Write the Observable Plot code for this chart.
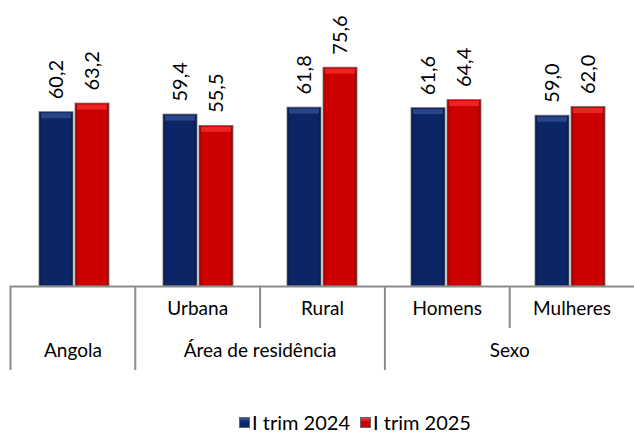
<!DOCTYPE html>
<html>
<head>
<meta charset="utf-8">
<script src="https://cdn.jsdelivr.net/npm/d3@7"></script>
<script src="https://cdn.jsdelivr.net/npm/@observablehq/plot@0.6"></script>
<style>
  html, body { margin: 0; padding: 0; background: #fff; }
  body { width: 634px; height: 434px; overflow: hidden; font-family: Lato, "Open Sans", sans-serif; }
  #chart svg, #table svg { display: block; }
  #legend { display: flex; justify-content: center; align-items: center; margin-top: 42px; padding-left: 76px; font-size: 20px; color: #000; line-height: 20px; }
  .item { display: flex; align-items: center; margin: 0 5px; }
  .sw { width: 11px; height: 11px; margin-right: 2px; box-sizing: border-box; border: 1px solid #666; }
</style>
</head>
<body>
<div id="chart"></div>
<div id="table"></div>
<div id="legend"></div>
<script>
// ---- data ----
const categories = ["Angola", "Urbana", "Rural", "Homens", "Mulheres"];
const groups = ["Angola", "Área de residência", "Área de residência", "Sexo", "Sexo"];
const subLabels = ["", "Urbana", "Rural", "Homens", "Mulheres"];
const series = ["I trim 2024", "I trim 2025"];
const values2024 = [60.2, 59.4, 61.8, 61.6, 59.0];
const values2025 = [63.2, 55.5, 75.6, 64.4, 62.0];
const colors = ["#0c2566", "#cc0000"];
const bevel = ["#3d5c9e", "#ff3a3a"];

const fmt = v => v.toFixed(1).replace(".", ",");
const rows = [];
categories.forEach((c, i) => {
  rows.push({category: c, series: series[0], value: values2024[i]});
  rows.push({category: c, series: series[1], value: values2025[i]});
});

const W = 634, ML = 10, MR = 0;

// ---- bar chart ----
const chart = Plot.plot({
  width: W,
  height: 286,
  marginLeft: ML,
  marginRight: MR,
  marginTop: 11,
  marginBottom: 0,
  style: {fontFamily: "Lato, 'Open Sans', sans-serif", overflow: "visible"},
  fx: {domain: categories, padding: 0, axis: null},
  x: {domain: series, paddingInner: 0.05, paddingOuter: 0.72, axis: null},
  y: {domain: [0, 95], axis: null},
  color: {domain: series, range: ["url(#gBlue)", "url(#gRed)"]},
  marks: [
    Plot.barY(rows, {fx: "category", x: "series", y: "value", fill: "series", stroke: "#6f6f6f", strokeWidth: 0.8}),
    Plot.tickY(rows, {fx: "category", x: "series", y: "value", stroke: d => d.series === series[0] ? bevel[0] : bevel[1], strokeWidth: 5, dy: 3.5, inset: 2, strokeOpacity: 0.6}),
    Plot.text(rows, {fx: "category", x: "series", y: "value", text: d => fmt(d.value), rotate: -90, textAnchor: "start", lineAnchor: "middle", dy: -13, fontSize: 20, fill: "#000"})
  ]
});
// gradients
const svg = d3.select(chart.tagName === "svg" ? chart : chart.querySelector("svg"));
const defs = svg.insert("defs", ":first-child");
function grad(id, edge, mid) {
  const g = defs.append("linearGradient").attr("id", id).attr("x1", 0).attr("x2", 1).attr("y1", 0).attr("y2", 0);
  g.append("stop").attr("offset", "0%").attr("stop-color", edge);
  g.append("stop").attr("offset", "12%").attr("stop-color", mid);
  g.append("stop").attr("offset", "88%").attr("stop-color", mid);
  g.append("stop").attr("offset", "100%").attr("stop-color", edge);
}
grad("gBlue", "#081a4a", colors[0]);
grad("gRed", "#a00000", colors[1]);
document.getElementById("chart").append(chart);

// ---- category table ----
const n = categories.length;
const subRows = categories.map((c, i) => ({i, label: subLabels[i], group: groups[i], first: i === 0 || groups[i] !== groups[i - 1]}));
const groupNames = [...new Set(groups)];
const groupRows = groupNames.map(g => {
  const idx = groups.map((x, i) => x === g ? i : -1).filter(i => i >= 0);
  return {label: g, start: idx[0], end: idx[idx.length - 1] + 1};
});
const table = Plot.plot({
  width: W,
  height: 84,
  marginLeft: ML,
  marginRight: MR,
  marginTop: 0,
  marginBottom: 0,
  style: {fontFamily: "Lato, 'Open Sans', sans-serif", overflow: "visible"},
  x: {domain: [0, n], axis: null},
  y: {domain: [0, 2], range: [0, 84], axis: null},
  marks: [
    Plot.ruleY([0], {stroke: "#8c8c8c", strokeWidth: 2}),
    Plot.ruleX(subRows, {x: "i", y1: 0, y2: d => d.first ? 2 : 1, stroke: "#8c8c8c", strokeWidth: 2}),
    Plot.text(subRows, {x: d => d.i + 0.5, y: 0.5, text: "label", fontSize: 19, fill: "#000", dy: 1}),
    Plot.text(groupRows, {x: d => (d.start + d.end) / 2, y: 1.5, text: "label", fontSize: 19, fill: "#000", dy: 1})
  ]
});
document.getElementById("table").append(table);

// ---- legend ----
const leg = d3.select("#legend");
series.forEach((s, i) => {
  const it = leg.append("div").attr("class", "item");
  it.append("div").attr("class", "sw").style("background", `linear-gradient(to bottom, ${bevel[i]} 0%, ${colors[i]} 45%, ${colors[i]} 100%)`);
  it.append("span").text(s);
});
</script>
</body>
</html>
